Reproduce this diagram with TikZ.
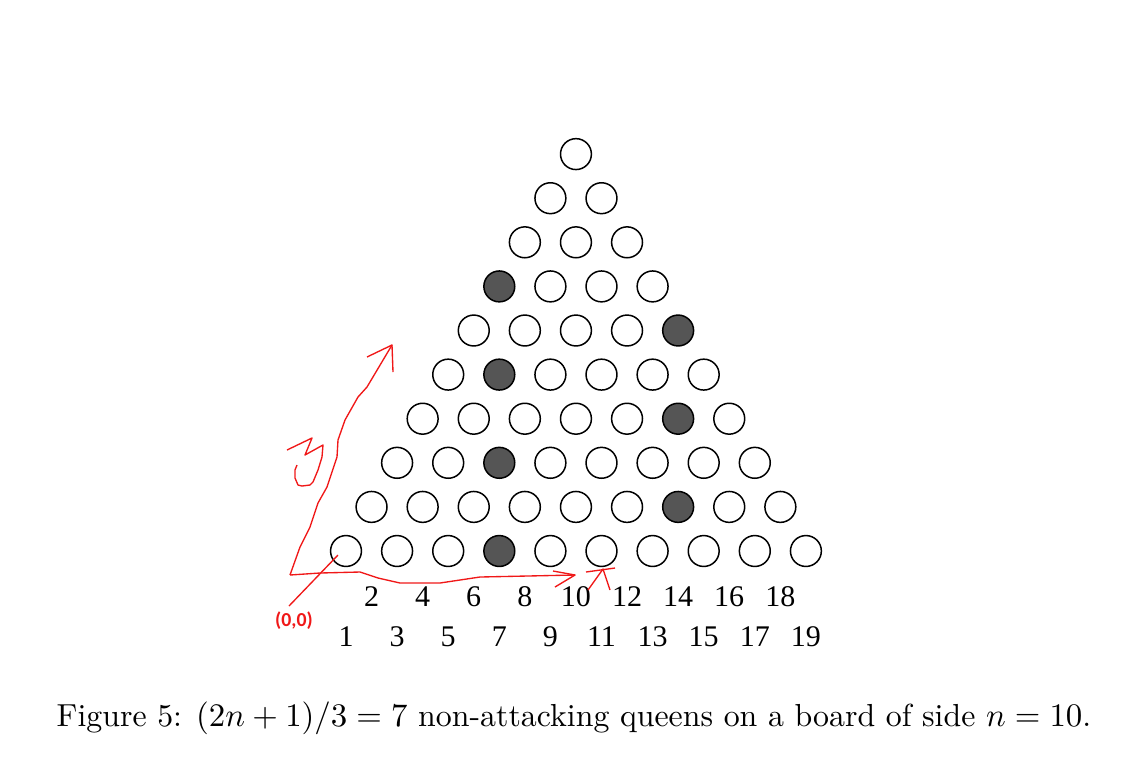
\documentclass[tikz,border=0pt]{standalone}
\usepackage{amsmath}
\usepackage{xcolor}
\usepackage{fontspec}
\newfontfamily\penfont{Carlito}
\newfontfamily\numfont{Liberation Serif}
\usepackage{tikz}

\definecolor{queenfill}{HTML}{555555}
\definecolor{penred}{HTML}{F01818}
\tikzset{
    cell/.style={draw,circle,line width=0.5pt,minimum size=10.3pt,inner sep=0pt,outer sep=0pt},
    queen/.style={cell,fill=queenfill},
    rowlabel/.style={inner sep=0pt,font=\numfont\fontsize{10}{12}\selectfont},
    pen/.style={draw=penred,line width=0.45pt,line join=round}
}

\begin{document}
\begin{tikzpicture}[x=0.3333pt,y=-0.3333pt]
    \useasboundingbox (0,0) rectangle (1131,759);
    % triangular board, one queen per row
    \foreach \r in {0,...,9} {
        \pgfmathtruncatemacro\m{9-\r}
        \pgfmathtruncatemacro\q{{3,6,2,5,1,4,0,-1,-1,-1}[\r]}
        \foreach \c in {0,...,\m} {
            \ifnum\c=\q\def\sty{queen}\else\def\sty{cell}\fi
            \node[\sty] (c-\r-\c) at ({346+51.1*\c+25.55*\r},{551-44.1*\r}) {};
        }
    }
    % numbering under the bottom row
    \foreach \n[count=\i from 0] in {1,3,...,19}
        \node[rowlabel] (odd-\i) at ({346+51.1*\i},637) {\n};
    \foreach \n[count=\i from 0] in {2,4,...,18}
        \node[rowlabel] (even-\i) at ({371.5+51.1*\i},597) {\n};
    % hand-drawn axes
    \coordinate (origin) at (290,575);
    \draw[pen] (origin) -- (300,547) -- (310,527) -- (318,503) -- (327,487) -- (337,457)
        -- (338,440) -- (345,420) -- (358,397) -- (367,387) -- (392,345) coordinate (ytip);
    \draw[pen] (367,357) -- (ytip) -- (393,372);
    \draw[pen] (origin) -- (320,573) -- (360,572) -- (378,578) -- (400,583) -- (440,583)
        -- (480,577) -- (575,575) coordinate (xtip);
    \draw[pen] (553,571) -- (xtip) -- (555,587);
    \draw[pen] (586,572) -- (615,568);
    \draw[pen] (588,590) -- (603,569) -- (610,590);
    \draw[pen] (287,450) -- (312,438) -- (305,455) -- (323,445) -- (322,457) -- (318,470)
        -- (313,482) -- (310,485) -- (302,486) -- (298,485) -- (295,478) -- (295,470) -- (297,465);
    \draw[pen] (c-0-0.center) ++(-8,4) -- (289,606);
    \node[text=penred,font=\penfont\bfseries\fontsize{6.6}{8}\selectfont] (zero) at (294,621) {(0,0)};
    % caption
    \node[font=\fontsize{10.62}{13}\selectfont] (caption) at (574,718) {Figure 5: $(2n+1)/3 = 7$ non-attacking queens on a board of side $n = 10$.};
\end{tikzpicture}
\end{document}
